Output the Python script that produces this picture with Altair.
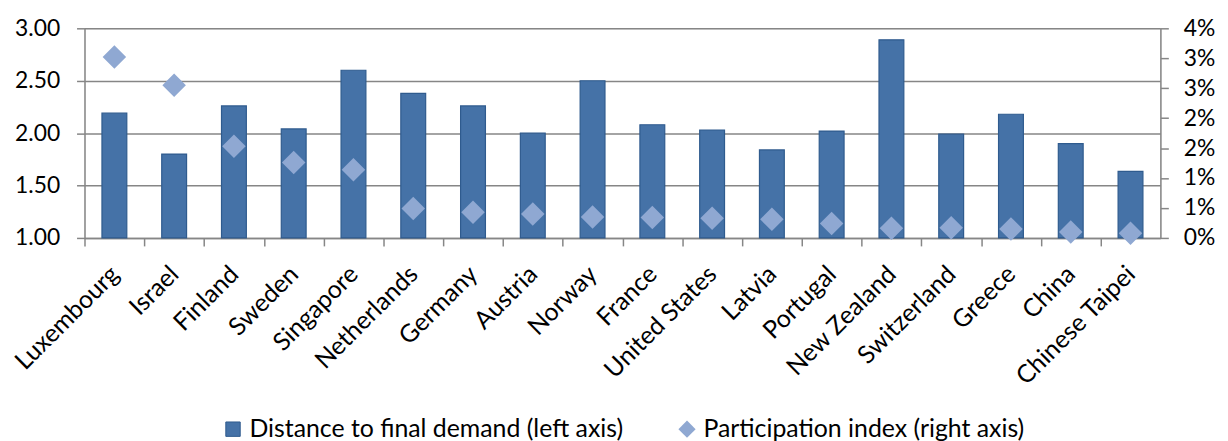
import altair as alt
import pandas as pd

countries = ["Luxembourg", "Israel", "Finland", "Sweden", "Singapore", "Netherlands",
             "Germany", "Austria", "Norway", "France", "United States", "Latvia",
             "Portugal", "New Zealand", "Switzerland", "Greece", "China", "Chinese Taipei"]
distance = [2.19, 1.80, 2.26, 2.04, 2.60, 2.38, 2.26, 2.00, 2.50, 2.08, 2.03, 1.84,
            2.02, 2.89, 1.99, 2.18, 1.90, 1.635]
participation = [0.0302, 0.0255, 0.0153, 0.0126, 0.0114, 0.0049, 0.0043, 0.0040, 0.0035,
                 0.0034, 0.0033, 0.0031, 0.0024, 0.0016, 0.0017, 0.0015, 0.0010, 0.0008]
left_ticks = [1.0, 1.5, 2.0, 2.5, 3.0]
right_ticks = [0.0, 0.005, 0.01, 0.015, 0.02, 0.025, 0.03, 0.035]
series_bar = "Distance to final demand (left axis)"
series_pt = "Participation index (right axis)"

df = pd.DataFrame({
    "country": countries,
    "distance": distance,
    "participation": participation,
    "s1": series_bar,
    "s2": series_pt,
})

FONT = "Lato"
BAR = "#4572A7"
BAR_EDGE = "#2F5B8E"
PT = "#8FA8D2"
GRID = "#868686"
W, H = 1083, 211
BAND = W / len(countries)

x = alt.X("country:N", sort=countries, title=None,
          scale=alt.Scale(paddingInner=0, paddingOuter=0),
          axis=alt.Axis(labelAngle=-45, labelAlign="right", labelBaseline="middle",
                        labelFontSize=25, labelFont=FONT, labelColor="#000000",
                        domainColor=GRID, tickColor=GRID, tickSize=8, tickWidth=1.5, domainWidth=1.5,
                        tickOffset=-BAND / 2, labelOffset=BAND / 2, labelPadding=24, grid=False))

bars = alt.Chart(df).mark_bar(size=25, stroke=BAR_EDGE, strokeWidth=1.2).encode(
    x=x,
    y=alt.Y("distance:Q", title=None,
            scale=alt.Scale(domain=[1, 3], zero=False, nice=False),
            axis=alt.Axis(values=left_ticks, format=".2f", orient="left", labelFontSize=23,
                          labelFont=FONT, labelColor="#000000", domainColor=GRID, tickColor=GRID,
                          tickSize=8, tickWidth=1.5, domainWidth=1.5, gridColor=GRID, gridWidth=1.5,
                          grid=True, labelPadding=17)),
    y2=alt.datum(1.0),
    fill=alt.Fill("s1:N", scale=alt.Scale(range=[BAR]),
                  legend=alt.Legend(title=None, orient="none", legendX=137, legendY=391,
                                    symbolType="square", symbolSize=210, symbolStrokeColor=BAR_EDGE,
                                    symbolStrokeWidth=1, labelFontSize=25, labelFont=FONT,
                                    labelColor="#000000", labelLimit=700)),
)

points = alt.Chart(df).mark_point(shape="diamond", filled=True, size=560, opacity=1, color=PT).encode(
    x=x,
    y=alt.Y("participation:Q", title=None,
            scale=alt.Scale(domain=[0, 0.035], nice=False),
            axis=alt.Axis(values=right_ticks, format=".0%", orient="right", labelFontSize=23,
                          labelFont=FONT, labelColor="#000000", domainColor=GRID, tickColor=GRID,
                          tickSize=8, tickWidth=1.5, domainWidth=1.5, grid=False, labelPadding=15)),
    shape=alt.Shape("s2:N", scale=alt.Scale(range=["diamond"]),
                    legend=alt.Legend(title=None, orient="none", legendX=594, legendY=391,
                                      symbolSize=300, symbolFillColor=PT, symbolStrokeWidth=0,
                                      labelFontSize=25, labelFont=FONT, labelColor="#000000",
                                      labelLimit=700)),
)

chart = alt.layer(bars, points).resolve_scale(y="independent").properties(
    width=W, height=H,
    autosize=alt.AutoSizeParams(type="none"),
    padding={"left": 77, "top": 19, "right": 60, "bottom": 210},
).configure_view(stroke=None).configure(background="white")

chart.save("out.html", embed_options={"renderer": "svg", "actions": False})
